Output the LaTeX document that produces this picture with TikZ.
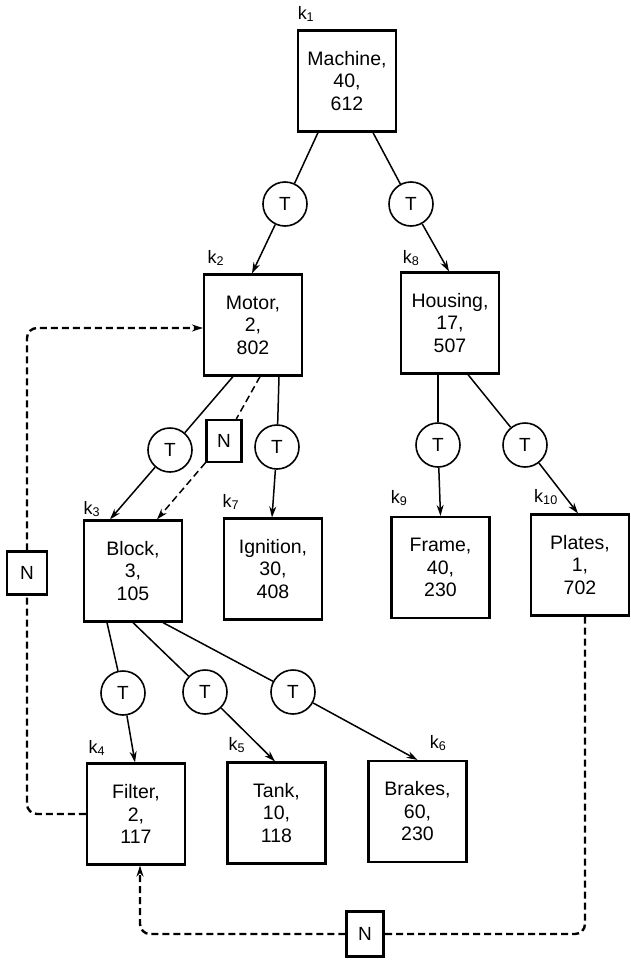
\documentclass[tikz,border=0pt]{standalone}
\usepackage{fontspec}
\setmainfont{Liberation Sans}
\usetikzlibrary{arrows.meta,calc}
\begin{document}
\begin{tikzpicture}[x=1pt,y=-1pt,
  box/.style={draw,line width=2.2pt,minimum width=98pt,minimum height=101pt,align=center,font=\fontsize{19.5}{22.5}\selectfont,inner sep=0pt},
  tc/.style={draw,circle,line width=1.6pt,minimum size=44pt,inner sep=0pt,font=\fontsize{19}{20}\selectfont},
  nb/.style={draw,line width=2.2pt,inner sep=0pt,font=\fontsize{19}{20}\selectfont},
  kl/.style={font=\fontsize{18}{20}\selectfont,inner sep=0pt},
  link/.style={line width=1.5pt},
  arr/.style={-{Stealth[length=11pt,width=7pt]}},
  dlink/.style={line width=2.4pt,dash pattern=on 7pt off 4pt},
  dthin/.style={line width=1.5pt,dash pattern=on 7pt off 4pt},
]
\useasboundingbox (0,0) rectangle (631,961);
% boxes
\node[box] (machine) at (347,81) {Machine,\\40,\\612};
\node[box] (motor) at (253,325) {Motor,\\2,\\802};
\node[box] (housing) at (450,323) {Housing,\\17,\\507};
\node[box] (block) at (133,571) {Block,\\3,\\105};
\node[box] (ignition) at (273,569) {Ignition,\\30,\\408};
\node[box] (frame) at (440.5,567.5) {Frame,\\40,\\230};
\node[box] (plates) at (580,565) {Plates,\\1,\\702};
\node[box] (filter) at (136,814) {Filter,\\2,\\117};
\node[box] (tank) at (276.5,813) {Tank,\\10,\\118};
\node[box] (brakes) at (417.5,811.5) {Brakes,\\60,\\230};
% k labels
\node[kl] (k1) at (306,14) {k\textsubscript{1}};
\node[kl] (k2) at (216,258) {k\textsubscript{2}};
\node[kl] (k8) at (411,258) {k\textsubscript{8}};
\node[kl] (k3) at (92,509) {k\textsubscript{3}};
\node[kl] (k7) at (231,502) {k\textsubscript{7}};
\node[kl] (k9) at (399,498) {k\textsubscript{9}};
\node[kl] (k10) at (546,497) {k\textsubscript{10}};
\node[kl] (k4) at (97,748) {k\textsubscript{4}};
\node[kl] (k5) at (237,745) {k\textsubscript{5}};
\node[kl] (k6) at (438,743) {k\textsubscript{6}};
% T circles
\node[tc] (t1) at (285,204) {T};
\node[tc] (t2) at (411,204) {T};
\node[tc] (t3) at (170,450) {T};
\node[tc] (t4) at (277,447) {T};
\node[tc] (t5) at (438,445) {T};
\node[tc] (t6) at (525,445) {T};
\node[tc] (t7) at (123,693) {T};
\node[tc] (t8) at (205,692) {T};
\node[tc] (t9) at (293,692) {T};
% N boxes
\node[nb,minimum width=35pt,minimum height=42pt] (nmid) at (224,441) {N};
\node[nb,minimum width=40pt,minimum height=43pt] (nleft) at (27,573) {N};
\node[nb,minimum width=37pt,minimum height=45pt] (nbot) at (365,934) {N};
% solid connectors
\draw[link] ($(machine.south)+(-29,0)$) -- (t1);
\draw[link,arr] (t1) -- ($(motor.north)+(-1,0)$);
\draw[link] ($(machine.south)+(26,0)$) -- (t2);
\draw[link,arr] (t2) -- ($(housing.north)+(-1,0)$);
\draw[link] ($(motor.south)+(-20,0)$) -- (t3);
\draw[link,arr] (t3) -- ($(block.north)+(-23,0)$);
\draw[link] ($(motor.south)+(26,0)$) -- (t4);
\draw[link,arr] (t4) -- ($(ignition.north)+(-1,0)$);
\draw[link] ($(housing.south)+(-12,0)$) -- (t5);
\draw[link,arr] (t5) -- (frame.north);
\draw[link] ($(housing.south)+(18,0)$) -- (t6);
\draw[link,arr] (t6) -- ($(plates.north)+(-2,0)$);
\draw[link] ($(block.south)+(-26,0)$) -- (t7);
\draw[link,arr] (t7) -- ($(filter.north)+(-1,0)$);
\draw[link] (block.south) -- (t8);
\draw[link,arr] (t8) -- ($(tank.north)+(-1.5,0)$);
\draw[link] ($(block.south)+(30,0)$) -- (t9);
\draw[link,arr] (t9) -- (brakes.north);
% dashed connectors
\draw[dthin] ($(motor.south)+(7,0)$) -- (nmid);
\draw[dthin,arr] (nmid) -- ($(block.north)+(24,0)$);
\draw[dlink,rounded corners=10pt] (filter.west) -| (nleft.south);
\draw[dlink,arr,rounded corners=10pt] (nleft.north) |- ($(motor.west)+(0,3)$);
\draw[dlink,rounded corners=10pt] ($(plates.south)+(5,0)$) |- (nbot.east);
\draw[dlink,arr,rounded corners=10pt] (nbot.west) -| ($(filter.south)+(4,0)$);
\end{tikzpicture}
\end{document}
